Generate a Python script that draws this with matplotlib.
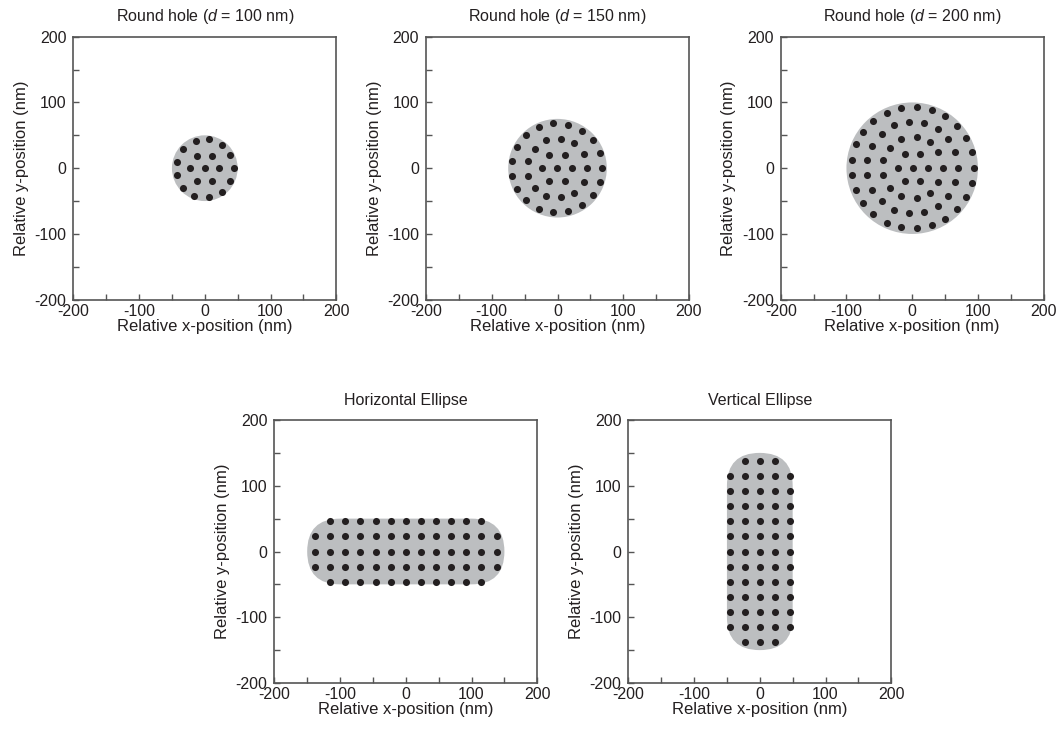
import matplotlib
matplotlib.use("Agg")
import matplotlib.pyplot as plt
from matplotlib.patches import Circle, FancyBboxPatch
from matplotlib.ticker import MultipleLocator

plt.rcParams['font.family'] = ['Liberation Sans', 'DejaVu Sans']
plt.rcParams['mathtext.fontset'] = 'custom'
plt.rcParams['mathtext.it'] = 'Liberation Sans:italic'
plt.rcParams['mathtext.rm'] = 'Liberation Sans'
plt.rcParams['axes.unicode_minus'] = False

# particle positions (nm) inside each hole
round100_x = [-13.4, 6.0, 25.4, -33.0, -11.2, 11.2, 39.0, -42.6, -22.0, 0.0, 22.0, 44.6,
              -42.6, -11.2, 11.2, 39.0, -33.0, 25.4, -15.7, 6.0]
round100_y = [41.0, 44.0, 36.0, 29.4, 19.0, 19.0, 20.0, 10.1, 0.0, 0.0, 0.0, 0.0,
              -10.1, -19.0, -19.0, -20.0, -29.4, -36.5, -41.6, -44.0]

round150_x = [-6.1, -28.1, 15.8, 37.3, -47.5, -17.4, 4.6, 25.6, 53.7, -61.3, -34.7, -12.3,
              10.7, 39.9, 63.9, -68.5, -45.5, -24.0, -0.5, 22.0, 45.0, 68.0, -68.5, -45.5,
              -12.3, 10.7, 39.9, 63.9, -61.3, -34.7, -17.4, 4.6, 25.6, 53.7, -47.5, -28.1,
              -6.1, 15.8, 37.3]
round150_y = [68.5, 62.3, 65.9, 57.2, 50.6, 42.4, 45.0, 37.8, 42.4, 32.7, 29.6, 19.9,
              19.9, 21.5, 22.5, 11.2, 11.2, 0.0, 0.0, 0.0, 0.0, 0.0, -11.2, -11.2,
              -19.4, -19.4, -21.0, -21.0, -32.2, -30.1, -41.9, -43.9, -37.3, -41.4, -49.0, -61.8,
              -66.9, -64.4, -56.7]

round200_x = [-17.2, 6.6, 29.4, -39.0, 49.7,
              -59.3, -27.4, -5.1, 17.7, 38.5, 68.4,
              -74.5, -46.6, -17.2, 6.6, 27.4, 54.8, 81.1,
              -85.7, -61.9, -34.0, -11.2, 11.7, 39.5, 64.9, 91.3,
              -92.3, -68.4, -45.1, -22.3, 0.5, 23.3, 46.1, 70.0, 93.8,
              -92.3, -68.4, -45.1,
              -85.7, -61.9, -34.0, -11.2, 11.7, 39.5, 64.9, 91.3,
              -74.5, -46.6, -17.2, 6.6, 27.4, 54.8, 81.1,
              -59.3, -27.4, -5.1, 17.7, 38.5, 68.4,
              -39.0, -17.2, 6.6, 29.4, 49.7]
round200_y = [91.3, 93.8, 88.7, 84.7, 79.6,
              72.5, 65.4, 70.0, 68.4, 59.3, 64.4,
              55.8, 51.7, 44.1, 47.2, 39.5, 44.1, 45.6,
              36.5, 34.0, 30.9, 21.8, 21.8, 24.3, 24.3, 24.3,
              12.7, 12.7, 12.7, 0.5, 0.5, 0.5, 0.5, 0.5, 0.5,
              -10.6, -10.6, -10.6,
              -33.0, -33.0, -29.9, -19.3, -19.3, -20.8, -20.8, -21.8,
              -53.2, -49.7, -42.1, -45.1, -38.0, -42.1, -43.1,
              -70.0, -63.4, -68.4, -66.4, -57.3, -62.4,
              -82.6, -88.7, -90.8, -86.2, -77.1]

# ellipse grids: rows / columns of particles
horiz_rows_y = [46, 23, 0, -23, -46]
horiz_cols_outer = [-115, -92, -69, -46, -23, 0, 23, 46, 69, 92, 115]
horiz_cols_inner = [-138, -115, -92, -69, -46, -23, 0, 23, 46, 69, 92, 115, 138]

vert_cols_x = [-46, -23, 0, 23, 46]
vert_rows_outer = [138, -138]
vert_rows_inner = [115, 92, 69, 46, 23, 0, -23, -46, -69, -92, -115]
vert_cols_short = [-23, 0, 23]

titles = ['Round hole ($d$ = 100 nm)', 'Round hole ($d$ = 150 nm)',
          'Round hole ($d$ = 200 nm)', 'Horizontal Ellipse', 'Vertical Ellipse']
diameters = [100, 150, 200]
ellipse_length = 300
ellipse_width = 100

hole_color = '#bcbec0'
dot_color = '#231f20'
text_color = '#231f20'

W, H = 1060, 733
fig = plt.figure(figsize=(W / 100, H / 100), dpi=100)

aw, ah = 263, 263
panel_px = [(73.3, 36.7), (426.0, 36.7), (780.7, 36.7), (274.3, 420.0), (628.3, 420.0)]
axes = []
for (px, py) in panel_px:
    ax = fig.add_axes([px / W, 1 - (py + ah) / H, aw / W, ah / H])
    axes.append(ax)


def style(ax, title):
    ax.set_xlim(-200, 200)
    ax.set_ylim(-200, 200)
    ax.set_aspect('equal')
    ax.xaxis.set_major_locator(MultipleLocator(100))
    ax.yaxis.set_major_locator(MultipleLocator(100))
    ax.xaxis.set_minor_locator(MultipleLocator(50))
    ax.yaxis.set_minor_locator(MultipleLocator(50))
    ax.tick_params(which='both', direction='in', top=False, right=False,
                   color='#555555', width=1.0, length=4, labelsize=11.5,
                   labelcolor=text_color)
    ax.tick_params(axis='y', pad=5)
    ax.tick_params(axis='x', pad=3)
    for s in ax.spines.values():
        s.set_color('#555555')
        s.set_linewidth(1.2)
    ax.set_xlabel('Relative x-position (nm)', fontsize=12, color=text_color, labelpad=0)
    ax.set_ylabel('Relative y-position (nm)', fontsize=12, color=text_color, labelpad=4)
    ax.set_title(title, fontsize=11.5, color=text_color, pad=11)


dot_kw = dict(s=26, color=dot_color, linewidths=0, zorder=3)

# round holes
round_dots = [(round100_x, round100_y), (round150_x, round150_y), (round200_x, round200_y)]
for i in range(3):
    ax = axes[i]
    ax.add_patch(Circle((0, 0), diameters[i] / 2, facecolor=hole_color, edgecolor='none', zorder=1))
    ax.scatter(round_dots[i][0], round_dots[i][1], **dot_kw)
    style(ax, titles[i])

# horizontal ellipse (stadium shape)
ax = axes[3]
ax.add_patch(FancyBboxPatch((-ellipse_length / 2, -ellipse_width / 2), ellipse_length, ellipse_width,
                            boxstyle='round,pad=0,rounding_size=%g' % (ellipse_width / 2),
                            facecolor=hole_color, edgecolor='none', zorder=1))
hx, hy = [], []
for y in horiz_rows_y:
    cols = horiz_cols_outer if abs(y) == 46 else horiz_cols_inner
    hx += cols
    hy += [y] * len(cols)
ax.scatter(hx, hy, **dot_kw)
style(ax, titles[3])

# vertical ellipse
ax = axes[4]
ax.add_patch(FancyBboxPatch((-ellipse_width / 2, -ellipse_length / 2), ellipse_width, ellipse_length,
                            boxstyle='round,pad=0,rounding_size=%g' % (ellipse_width / 2),
                            facecolor=hole_color, edgecolor='none', zorder=1))
vx, vy = [], []
for y in vert_rows_outer + vert_rows_inner:
    cols = vert_cols_short if y in vert_rows_outer else vert_cols_x
    vx += cols
    vy += [y] * len(cols)
ax.scatter(vx, vy, **dot_kw)
style(ax, titles[4])

fig.savefig('out.png', dpi=100)
